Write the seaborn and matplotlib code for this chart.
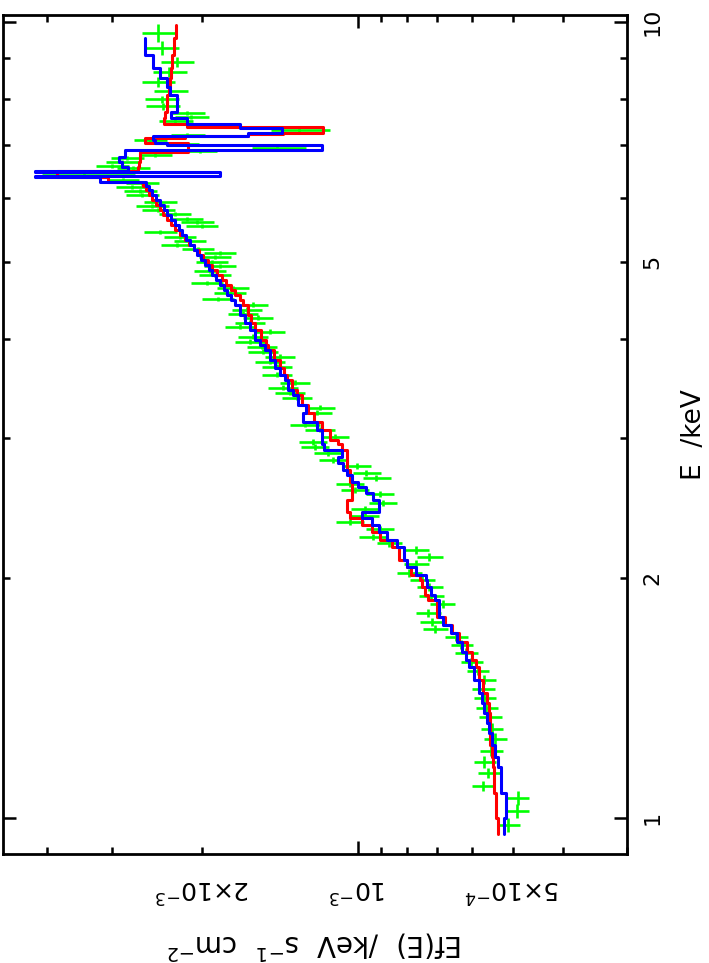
import numpy as np
import matplotlib
matplotlib.use('Agg')
import matplotlib.pyplot as plt
import seaborn as sns

# data points: bin centre (keV), half bin width (keV), EF(E) and error in units of 1e-3
energy = [0.980, 1.020, 1.060, 1.097, 1.139, 1.176, 1.214, 1.257, 1.294, 1.339,
          1.375, 1.415, 1.453, 1.491, 1.530, 1.570, 1.612, 1.650, 1.688, 1.727,
          1.763, 1.809, 1.857, 1.900, 1.951, 1.991, 2.032, 2.085, 2.128, 2.171,
          2.215, 2.254, 2.307, 2.354, 2.395, 2.444, 2.487, 2.553, 2.582, 2.628,
          2.674, 2.713, 2.768, 2.816, 2.874, 2.925, 2.968, 3.011, 3.072, 3.117,
          3.227, 3.274, 3.371, 3.420, 3.470, 3.520, 3.602, 3.686, 3.740, 3.794,
          3.849, 3.905, 3.963, 4.020, 4.079, 4.139, 4.187, 4.248, 4.298, 4.347,
          4.411, 4.487, 4.566, 4.632, 4.699, 4.810, 4.866, 4.937, 4.995, 5.068,
          5.127, 5.187, 5.247, 5.308, 5.370, 5.448, 5.543, 5.608, 5.656, 5.739,
          5.805, 5.872, 5.940, 6.061, 6.131, 6.202, 6.276, 6.331, 6.430, 6.556,
          6.594, 6.671, 6.749, 6.808, 6.887, 6.950, 7.030, 7.110, 7.210, 7.320,
          7.510, 7.600, 7.690, 7.840, 8.000, 8.190, 8.410, 8.650, 8.910, 9.270,
          9.690]
e_half = [0.020, 0.021, 0.022, 0.017, 0.018, 0.019, 0.019, 0.020, 0.021, 0.021,
          0.022, 0.018, 0.019, 0.019, 0.020, 0.020, 0.021, 0.021, 0.022, 0.020,
          0.020, 0.021, 0.022, 0.022, 0.023, 0.023, 0.024, 0.024, 0.025, 0.025,
          0.026, 0.020, 0.020, 0.020, 0.021, 0.021, 0.022, 0.022, 0.022, 0.023,
          0.023, 0.024, 0.024, 0.024, 0.025, 0.025, 0.026, 0.026, 0.022, 0.022,
          0.023, 0.024, 0.024, 0.025, 0.025, 0.025, 0.026, 0.027, 0.027, 0.027,
          0.028, 0.028, 0.029, 0.029, 0.029, 0.030, 0.030, 0.031, 0.031, 0.031,
          0.032, 0.029, 0.030, 0.030, 0.030, 0.031, 0.031, 0.032, 0.032, 0.032,
          0.033, 0.033, 0.034, 0.034, 0.034, 0.035, 0.035, 0.036, 0.036, 0.037,
          0.037, 0.038, 0.038, 0.039, 0.039, 0.040, 0.040, 0.041, 0.050, 0.038,
          0.038, 0.039, 0.039, 0.039, 0.040, 0.040, 0.041, 0.041, 0.042, 0.042,
          0.044, 0.044, 0.045, 0.079, 0.081, 0.095, 0.120, 0.125, 0.129, 0.188,
          0.252]
flux_e3 = [0.510, 0.490, 0.488, 0.570, 0.557, 0.567, 0.550, 0.540, 0.548, 0.552,
           0.562, 0.567, 0.570, 0.567, 0.585, 0.601, 0.615, 0.629, 0.643, 0.706,
           0.716, 0.729, 0.684, 0.719, 0.725, 0.748, 0.793, 0.769, 0.725, 0.769,
           0.867, 0.935, 0.906, 1.036, 0.969, 0.969, 0.894, 0.906, 1.013, 1.036,
           0.919, 0.961, 1.004, 1.118, 1.143, 1.211, 1.222, 1.108, 1.185, 1.267,
           1.201, 1.185, 1.313, 1.354, 1.398, 1.325, 1.436, 1.436, 1.481, 1.416,
           1.528, 1.534, 1.619, 1.598, 1.481, 1.693, 1.619, 1.562, 1.671, 1.641,
           1.598, 1.867, 1.771, 1.747, 1.962, 1.893, 1.936, 1.851, 1.918, 1.893,
           1.851, 2.042, 2.243, 2.117, 2.213, 2.419, 2.006, 2.051, 2.145, 2.263,
           2.441, 2.507, 2.419, 2.622, 2.646, 2.742, 2.622, 2.854, 3.400, 2.729,
           2.997, 2.866, 2.803, 2.474, 2.022, 1.430, 2.193, 2.530, 2.140, 1.300,
           2.260, 2.100, 2.140, 2.390, 2.400, 2.310, 2.440, 2.320, 2.240, 2.400,
           2.440]
flux_err_e3 = [0.026, 0.025, 0.024, 0.029, 0.028, 0.028, 0.028, 0.027, 0.027, 0.028,
               0.028, 0.028, 0.029, 0.028, 0.029, 0.030, 0.031, 0.031, 0.032, 0.040,
               0.040, 0.041, 0.038, 0.040, 0.041, 0.042, 0.044, 0.043, 0.041, 0.043,
               0.049, 0.058, 0.056, 0.064, 0.060, 0.060, 0.055, 0.056, 0.063, 0.064,
               0.057, 0.060, 0.062, 0.069, 0.071, 0.075, 0.076, 0.069, 0.079, 0.085,
               0.080, 0.079, 0.088, 0.091, 0.094, 0.089, 0.096, 0.096, 0.099, 0.095,
               0.102, 0.103, 0.108, 0.107, 0.099, 0.113, 0.108, 0.105, 0.112, 0.110,
               0.107, 0.134, 0.128, 0.126, 0.141, 0.136, 0.139, 0.133, 0.138, 0.136,
               0.133, 0.147, 0.161, 0.152, 0.159, 0.174, 0.144, 0.148, 0.154, 0.163,
               0.176, 0.181, 0.174, 0.189, 0.191, 0.197, 0.189, 0.205, 0.700, 0.205,
               0.225, 0.215, 0.210, 0.186, 0.152, 0.170, 0.164, 0.190, 0.160, 0.170,
               0.170, 0.158, 0.160, 0.179, 0.180, 0.173, 0.183, 0.174, 0.168, 0.180,
               0.183]

# model histograms (bin edges in keV, values in units of 1e-3)
model_edges = [0.9548, 1.0, 1.0750, 1.1589, 1.1929, 1.2351, 1.2787, 1.3162, 1.3548, 1.3946,
               1.4355, 1.4906, 1.5477, 1.5793, 1.6163, 1.6637, 1.7076, 1.7476, 1.7884, 1.8787,
               1.9061, 1.9507, 1.9905, 2.0196, 2.0669, 2.1091, 2.1901, 2.2349, 2.2873, 2.3340,
               2.3817, 2.4234, 2.5092, 2.5605, 2.6054, 2.6433, 2.6973, 2.7366, 2.7926, 2.8415,
               2.9000, 2.9507, 2.9850, 3.0726, 3.1445, 3.2272, 3.3027, 3.3996, 3.4490, 3.5502,
               3.6020, 3.6757, 3.7617, 3.8721, 3.9285, 3.9857, 4.1027, 4.1866, 4.2846, 4.4103,
               4.4746, 4.5400, 4.6062, 4.6735, 4.7416, 4.8108, 4.8810, 4.9522, 5.0245, 5.0978,
               5.1722, 5.2476, 5.3242, 5.4019, 5.4806, 5.5606, 5.6417, 5.7240, 5.8075, 5.8922,
               5.9781, 6.0653, 6.1538, 6.2255, 6.2979, 6.3803, 6.3987, 6.4731, 6.4919, 6.5768,
               6.6727, 6.7700, 6.8688, 6.9087, 7.0095, 7.0502, 7.1116, 7.1528, 7.1943, 7.2257,
               7.2570, 7.3629, 7.3842, 7.4486, 7.5790, 7.7117, 8.0948, 8.2843, 8.5027, 8.7521,
               9.0878, 9.5477, 9.9136]
blue_e3 = [0.519, 0.514, 0.526, 0.535, 0.540, 0.548, 0.555, 0.560, 0.567, 0.573,
           0.580, 0.593, 0.607, 0.615, 0.626, 0.640, 0.658, 0.684, 0.694, 0.706,
           0.719, 0.732, 0.735, 0.769, 0.800, 0.811, 0.840, 0.875, 0.907, 0.939,
           0.978, 0.907, 0.935, 0.961, 1.000, 1.023, 1.046, 1.069, 1.093, 1.074,
           1.159, 1.174, 1.174, 1.201, 1.278, 1.261, 1.307, 1.337, 1.367, 1.385,
           1.416, 1.448, 1.481, 1.514, 1.549, 1.583, 1.619, 1.656, 1.693, 1.731,
           1.762, 1.795, 1.819, 1.852, 1.885, 1.919, 1.944, 1.979, 2.015, 2.051,
           2.079, 2.116, 2.154, 2.194, 2.224, 2.264, 2.304, 2.346, 2.377, 2.420,
           2.463, 2.508, 2.541, 2.575, 3.162, 4.227, 1.852, 4.227, 2.791, 2.867,
           2.906, 2.829, 2.829, 1.174, 2.346, 2.474, 2.497, 2.497, 1.634, 1.634,
           1.404, 1.693, 1.693, 2.145, 2.304, 2.244, 2.314, 2.346, 2.420, 2.497,
           2.587, np.nan]
red_e3 = [0.533, 0.538, 0.543, 0.545, 0.548, 0.552, 0.552, 0.552, 0.555, 0.560,
          0.570, 0.580, 0.588, 0.599, 0.612, 0.635, 0.655, 0.675, 0.700, 0.729,
          0.739, 0.748, 0.758, 0.786, 0.800, 0.829, 0.859, 0.903, 0.939, 0.982,
          1.036, 1.046, 1.027, 1.023, 1.023, 1.036, 1.036, 1.050, 1.050, 1.050,
          1.074, 1.093, 1.133, 1.174, 1.212, 1.250, 1.284, 1.313, 1.343, 1.373,
          1.391, 1.416, 1.455, 1.494, 1.508, 1.542, 1.583, 1.612, 1.634, 1.671,
          1.693, 1.731, 1.762, 1.803, 1.835, 1.877, 1.919, 1.953, 1.997, 2.033,
          2.079, 2.126, 2.165, 2.214, 2.264, 2.304, 2.346, 2.388, 2.420, 2.463,
          2.508, 2.541, 2.575, 2.610, 3.052, 3.831, 3.831, 3.831, 2.669, 2.657,
          2.646, 2.646, 2.135, 2.135, 2.135, 2.587, 2.587, 2.165, 1.634, 1.398,
          1.169, 1.169, 2.145, 2.377, 2.367, 2.346, 2.325, 2.314, 2.304, 2.294,
          2.274, 2.254]

# axis ticks
flux_major = [1e-3]
flux_major_labels = ['10$^{-3}$']
flux_minor = [3e-4, 4e-4, 5e-4, 6e-4, 7e-4, 8e-4, 9e-4, 2e-3, 3e-3, 4e-3]
flux_minor_labels = ['', '', '5×10$^{-4}$', '', '', '', '', '2×10$^{-3}$', '', '']
e_major = [1, 10]
e_major_labels = ['1', '10']
e_minor = [2, 3, 4, 5, 6, 7, 8, 9]
e_minor_labels = ['2', '', '', '5', '', '', '', '']

sns.set_theme(style='ticks')
plt.rcParams['font.family'] = ['DejaVu Sans']

fig = plt.figure(figsize=(7.09, 9.63), dpi=100)
ax = fig.add_axes([0.0042, 0.1132, 0.8801, 0.8712])
ax.set_xscale('log')
ax.set_yscale('log')

E = np.array(energy)
F = np.array(flux_e3) * 1e-3
ax.errorbar(F, E, xerr=np.array(flux_err_e3) * 1e-3, yerr=np.array(e_half),
            fmt='none', ecolor='#00ff00', elinewidth=1.9, capsize=0, zorder=2)

# step histograms drawn along the vertical energy axis
edges = np.array(model_edges)
ys = np.column_stack([edges[:-1], edges[1:]]).ravel()
for vals, col, z in [(red_e3, '#ff0000', 3), (blue_e3, '#0000ff', 4)]:
    xs = np.repeat(np.array(vals) * 1e-3, 2)
    ok = ~np.isnan(xs)
    sns.lineplot(x=xs[ok], y=ys[ok], sort=False, estimator=None, color=col,
                 linewidth=2.2, ax=ax, zorder=z)

ax.set_xlim(4.875e-3, 3.01e-4)
ax.set_ylim(0.901, 10.2)

ax.set_xticks(flux_major, labels=flux_major_labels)
ax.set_xticks(flux_minor, labels=flux_minor_labels, minor=True)
ax.set_yticks(e_major, labels=e_major_labels)
ax.set_yticks(e_minor, labels=e_minor_labels, minor=True)

ax.tick_params(which='both', direction='in', top=True, bottom=True, left=True, right=True,
               width=1.8, color='black', labelcolor='black')
ax.tick_params(which='major', length=9.5)
ax.tick_params(which='minor', length=5)
ax.tick_params(axis='x', which='both', labelrotation=180, labelsize=18, pad=15,
               labelbottom=True, labeltop=False)
ax.tick_params(axis='y', which='both', labelrotation=90, labelsize=16, pad=11,
               labelleft=False, labelright=True)
for t in ax.get_yticklabels(which='both'):
    t.set_va('center')

for s in ax.spines.values():
    s.set_visible(True)
    s.set_color('black')
    s.set_linewidth(2.0)

ax.set_xlabel('Ef(E)  /keV  s$^{-1}$  cm$^{-2}$', fontsize=20, color='black')
ax.xaxis.label.set(rotation=180, va='center', ha='center', rotation_mode='anchor')
ax.xaxis.set_label_coords(0.5, -0.1085)

ax.yaxis.set_label_position('right')
ax.set_ylabel('E  /keV', fontsize=19, color='black')
ax.yaxis.label.set(rotation=90, va='center', ha='center', rotation_mode='anchor')
ax.yaxis.set_label_coords(1.107, 0.5)

fig.savefig('out.png', dpi=100, facecolor='white')
